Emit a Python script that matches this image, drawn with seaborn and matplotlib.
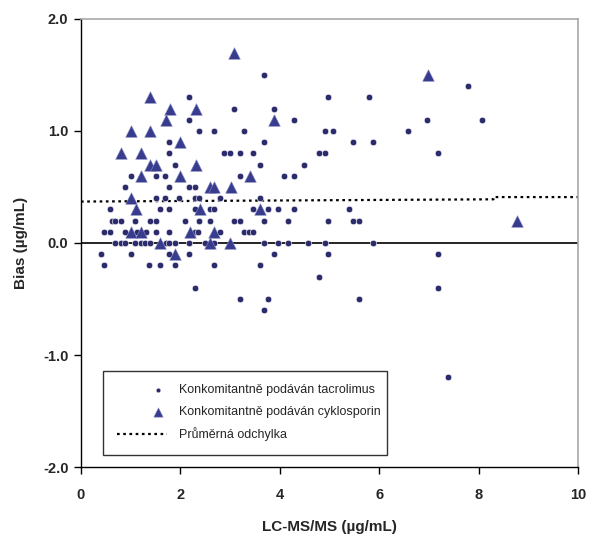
import numpy as np
import pandas as pd
import matplotlib
matplotlib.use("Agg")
import matplotlib.pyplot as plt
from matplotlib.legend_handler import HandlerPathCollection
import seaborn as sns

# Concomitant tacrolimus (circles), one line per bias level
tac_x = [3.68,
         7.78,
         2.17, 4.98, 5.79,
         3.07, 3.88,
         2.17, 4.29, 6.97, 8.07,
         2.38, 2.67, 3.27, 4.90, 5.07, 6.57,
         1.78, 3.68, 5.47, 5.88,
         1.78, 2.87, 2.99, 3.19, 3.47, 4.78, 4.90, 7.18,
         1.89, 3.60, 4.49,
         1.00, 1.50, 1.69, 3.19, 4.09, 4.29,
         0.89, 1.78, 2.18, 2.30,
         1.50, 1.69, 1.98, 2.30, 2.37, 2.79, 3.60,
         0.59, 1.58, 1.78, 2.30, 2.59, 2.68, 3.47, 3.77, 3.97, 4.29, 5.39,
         0.62, 0.68, 0.80, 1.09, 1.38, 1.50, 2.10, 2.38, 2.59, 3.07, 3.19, 3.68, 4.17, 4.98, 5.47, 5.59,
         0.47, 0.59, 0.89, 1.12, 1.30, 1.50, 1.78, 2.30, 2.35, 2.79, 3.27, 3.39, 3.47,
         0.68, 0.80, 0.89, 1.09, 1.21, 1.29, 1.38, 1.71, 1.78, 1.89, 2.18, 2.49, 2.68, 3.68, 3.97, 4.17, 4.57, 4.90, 5.88,
         0.40, 1.00, 1.78, 2.18, 3.88, 4.98, 7.18,
         0.47, 1.37, 1.58, 1.90, 2.67, 3.60,
         4.78,
         2.29, 7.18,
         3.19, 3.77, 5.59,
         3.68,
         7.38]
tac_y = [1.5,
         1.4,
         1.3, 1.3, 1.3,
         1.2, 1.2,
         1.1, 1.1, 1.1, 1.1,
         1.0, 1.0, 1.0, 1.0, 1.0, 1.0,
         0.9, 0.9, 0.9, 0.9,
         0.8, 0.8, 0.8, 0.8, 0.8, 0.8, 0.8, 0.8,
         0.7, 0.7, 0.7,
         0.6, 0.6, 0.6, 0.6, 0.6, 0.6,
         0.5, 0.5, 0.5, 0.5,
         0.4, 0.4, 0.4, 0.4, 0.4, 0.4, 0.4,
         0.3, 0.3, 0.3, 0.3, 0.3, 0.3, 0.3, 0.3, 0.3, 0.3, 0.3,
         0.2, 0.2, 0.2, 0.2, 0.2, 0.2, 0.2, 0.2, 0.2, 0.2, 0.2, 0.2, 0.2, 0.2, 0.2, 0.2,
         0.1, 0.1, 0.1, 0.1, 0.1, 0.1, 0.1, 0.1, 0.1, 0.1, 0.1, 0.1, 0.1,
         0.0, 0.0, 0.0, 0.0, 0.0, 0.0, 0.0, 0.0, 0.0, 0.0, 0.0, 0.0, 0.0, 0.0, 0.0, 0.0, 0.0, 0.0, 0.0,
         -0.1, -0.1, -0.1, -0.1, -0.1, -0.1, -0.1,
         -0.2, -0.2, -0.2, -0.2, -0.2, -0.2,
         -0.3,
         -0.4, -0.4,
         -0.5, -0.5, -0.5,
         -0.6,
         -1.2]

# Concomitant cyclosporin (triangles)
cyc_x = [3.08, 6.99, 1.38, 1.79, 2.31, 1.71, 3.89, 1.01, 1.38, 1.99,
         0.80, 1.21, 1.39, 1.51, 2.31, 1.21, 1.99, 3.41, 2.59, 2.68,
         3.01, 1.01, 1.10, 2.39, 3.61, 8.78, 1.01, 1.21, 2.19, 2.68,
         1.59, 2.60, 3.00, 1.90]
cyc_y = [1.7, 1.5, 1.3, 1.2, 1.2, 1.1, 1.1, 1.0, 1.0, 0.9,
         0.8, 0.8, 0.7, 0.7, 0.7, 0.6, 0.6, 0.6, 0.5, 0.5,
         0.5, 0.4, 0.3, 0.3, 0.3, 0.2, 0.1, 0.1, 0.1, 0.1,
         0.0, 0.0, 0.0, -0.1]

# mean bias line (small step near x = 8.3)
mean_x = [0, 8.3, 8.3, 10]
mean_y = [0.37, 0.39, 0.41, 0.41]

labels = ["Konkomitantně podáván tacrolimus",
          "Konkomitantně podáván cyklosporin",
          "Průměrná odchylka"]

x_ticks = [0, 2, 4, 6, 8, 10]
y_ticks = [-2.0, -1.0, 0.0, 1.0, 2.0]


class RightMarkerHandler(HandlerPathCollection):
    # legend marker sits near the right end of the handle box, like the original
    def get_xdata(self, legend, xdescent, ydescent, width, height, fontsize):
        xdata = [-xdescent, -xdescent + width]
        xdata_marker = [-xdescent + 0.83 * width]
        return xdata, xdata_marker


def main():
    sns.set_style("white")
    plt.rcParams['font.family'] = ['Liberation Sans', 'DejaVu Sans']

    tac = pd.DataFrame({'x': tac_x, 'y': tac_y})
    cyc = pd.DataFrame({'x': cyc_x, 'y': cyc_y})
    mean_df = pd.DataFrame({'x': mean_x, 'y': mean_y})

    fig = plt.figure(figsize=(5.89, 5.36), dpi=100)
    ax = fig.add_axes([0.1375, 0.1287, 0.8438, 0.8359])

    ax.axhline(0, color='black', lw=1.2, zorder=1)

    sns.scatterplot(data=tac, x='x', y='y', ax=ax, marker='o', s=22,
                    color='#2c2c6c', edgecolor='white', linewidth=0.4,
                    label=labels[0], zorder=3)
    sns.scatterplot(data=cyc, x='x', y='y', ax=ax, marker='^', s=70,
                    color='#383c8e', edgecolor='#8a8cc0', linewidth=0.4,
                    label=labels[1], zorder=4)
    sns.lineplot(data=mean_df, x='x', y='y', ax=ax, color='black', lw=1.6,
                 linestyle=(0, (1.2, 1.6)), label=labels[2], zorder=2,
                 estimator=None, sort=False)

    ax.set_xlim(0, 10)
    ax.set_ylim(-2, 2)
    ax.set_xticks(x_ticks)
    ax.set_yticks(y_ticks)
    ax.set_xticklabels([str(t) for t in x_ticks], fontweight='bold', fontsize=10.5)
    ax.set_yticklabels([f"{t:.1f}" for t in y_ticks], fontweight='bold', fontsize=10.5)
    ax.tick_params(axis='both', direction='out', length=5, width=1,
                   color='black', bottom=True, left=True)
    ax.tick_params(axis='x', pad=10)
    ax.tick_params(axis='y', pad=4)

    ax.set_xlabel("LC-MS/MS (µg/mL)", fontweight='bold', fontsize=11, labelpad=13)
    ax.set_ylabel("Bias (µg/mL)", fontweight='bold', fontsize=11, labelpad=11)

    for side in ['left', 'bottom']:
        ax.spines[side].set_color('black')
        ax.spines[side].set_linewidth(1.0)
    for side in ['top', 'right']:
        ax.spines[side].set_color('#a8a8a8')
        ax.spines[side].set_linewidth(1.2)

    handles, labs = ax.get_legend_handles_labels()
    leg = ax.legend(handles, labs, loc='lower left',
                    bbox_to_anchor=(0.044, 0.027, 0.572, 0.19),
                    mode='expand', borderaxespad=0, frameon=True, fancybox=False,
                    framealpha=1, edgecolor='#333333', handlelength=4.0,
                    handletextpad=1.0, labelspacing=0.75, borderpad=1.1,
                    scatterpoints=1,
                    handler_map={handles[0]: RightMarkerHandler(),
                                 handles[1]: RightMarkerHandler()},
                    prop={'family': ['Liberation Sans Narrow', 'Liberation Sans'],
                          'size': 9})
    leg.get_frame().set_linewidth(1.0)
    lh = leg.legend_handles
    lh[0].set_sizes([12])
    lh[1].set_sizes([45])

    fig.savefig('out.png', dpi=100)
    plt.close(fig)


if __name__ == "__main__":
    main()
